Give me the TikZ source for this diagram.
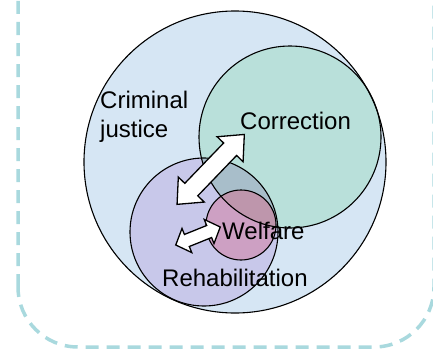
\documentclass[tikz,border=0pt]{standalone}
\usepackage{fontspec}
\setmainfont{Liberation Sans}
\definecolor{framecol}{RGB}{169,217,222}
\definecolor{justiceblue}{RGB}{214,230,244}
\definecolor{correctgreen}{RGB}{185,224,218}
\definecolor{rehabpurple}{RGB}{200,200,234}
\definecolor{welfarepink}{RGB}{205,160,195}
\definecolor{overlapblue}{RGB}{168,190,202}
\definecolor{overlapmauve}{RGB}{190,150,172}
\begin{document}
\begin{tikzpicture}
  [x=1pt,y=1pt,every node/.style={inner sep=0pt,font=\fontsize{24}{29}\selectfont},
   fatarrow/.style={draw=black,fill=white,line width=1.3pt,line join=miter}]
  \clip (0,0) rectangle (433,349);
  \draw[framecol,line width=3.5pt,dash pattern=on 13pt off 8pt,rounded corners=60pt]
    (18,2) rectangle (434,430);

  \coordinate (cj) at (235,187);
  \coordinate (co) at (290,212);
  \coordinate (re) at (204,117);
  \coordinate (we) at (241,124);

  % fills
  \fill[justiceblue] (cj) circle (151pt);
  \fill[correctgreen] (co) circle (91pt);
  \fill[rehabpurple] (re) circle (74pt);
  \begin{scope}
    \clip (re) circle (74pt);
    \fill[overlapblue] (co) circle (91pt);
  \end{scope}
  \fill[welfarepink] (we) circle (35pt);
  \begin{scope}
    \clip (we) circle (35pt);
    \fill[overlapmauve] (co) circle (91pt);
  \end{scope}

  \foreach \c/\r in {cj/151,co/91,re/74,we/35}
    \draw[line width=1.1pt] (\c) circle (\r pt);

  % arrows: centre / angle / half length / head back / shaft / head
  \foreach \m/\a/\l/\b/\s/\h in {{(210.7,179.6)}/46.1/48.5/28/9/18,{(198,113)}/22/24/12/6.5/13}
    \draw[fatarrow,shift={\m},rotate=\a]
      (\l,0) -- (\b,\h) -- (\b,\s) -- (-\b,\s) -- (-\b,\h) -- (-\l,0)
      -- (-\b,-\h) -- (-\b,-\s) -- (\b,-\s) -- (\b,-\h) -- cycle;

  % labels
  \node[anchor=north west,align=left] (crim) at (100,258) {Criminal\\justice};
  \node[anchor=base west] (corr) at (240,220) {Correction};
  \node[anchor=base west] (welf) at (222,110) {Welfare};
  \node[anchor=base west] (rehab) at (162,63) {Rehabilitation};
\end{tikzpicture}
\end{document}
